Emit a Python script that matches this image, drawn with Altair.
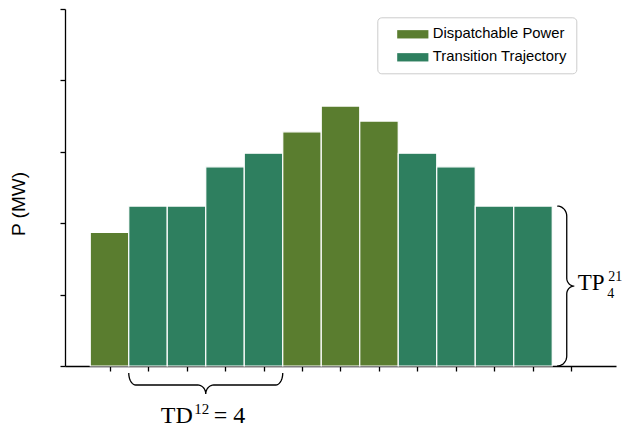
import altair as alt
import pandas as pd
import numpy as np

# ---------------- data ----------------
steps = list(range(1, 13))
power = [1.87, 2.24, 2.24, 2.79, 2.98, 3.28, 3.64, 3.43, 2.98, 2.79, 2.24, 2.24]
kinds = ["Dispatchable Power"] + ["Transition Trajectory"] * 4 + \
        ["Dispatchable Power"] * 3 + ["Transition Trajectory"] * 4
legend_names = ["Dispatchable Power", "Transition Trajectory"]
legend_colors = ["#5A7D2F", "#2E7F5F"]
x_ticks = list(range(1, 14))
y_ticks = [0, 1, 2, 3, 4, 5]
td_span = [2, 5]          # bars covered by bottom brace
tp_bar = 12               # bar whose height the right brace spans
td_text = ["TD", "12", "= 4"]
tp_text = ["TP", "4", "21"]

# ---------------- layout constants ----------------
W, H = 551, 357
X_DOM = [-0.156, 14.156]
Y_DOM = [0, 5]
PX_X = W / (X_DOM[1] - X_DOM[0])
PX_Y = H / (Y_DOM[1] - Y_DOM[0])

bars = pd.DataFrame({"step": steps, "yv": power, "kind": kinds})
bars["xv"] = bars["step"] - 0.5
bars["xv2"] = bars["step"] + 0.5


def brace(length, end_a, end_d, tip_a, tip_d, n=10):
    """generic curly brace in (along, depth) pixel offsets"""
    t = np.linspace(0, np.pi / 2, n)
    pts = []
    for ti in t:
        pts.append((end_a - end_a * np.cos(ti), end_d * np.sin(ti)))
    cx, cy = length / 2 - tip_a, end_d + tip_d
    for ti in t:
        pts.append((cx + tip_a * np.sin(ti), cy - tip_d * np.cos(ti)))
    half = list(pts)
    for a, d in reversed(half[:-1]):
        pts.append((length - a, d))
    return pts


rows = []
# bottom brace (horizontal, under bars td_span)
bx0 = td_span[0] - 0.5
bx1 = td_span[1] + 0.5
blen = (bx1 - bx0) * PX_X
for i, (a, d) in enumerate(brace(blen, 7, 12, 8, 9)):
    rows.append({"id": "td", "o": i, "xv": bx0 + a / PX_X, "yv": -(7 + d) / PX_Y})
# right brace (vertical, beside last bar)
top = power[tp_bar - 1]
vlen = top * PX_Y
rx0 = tp_bar + 0.5 + 5 / PX_X
for i, (a, d) in enumerate(brace(vlen, 10, 9.5, 8, 7.5)):
    rows.append({"id": "tp", "o": i, "xv": rx0 + d / PX_X, "yv": top - a / PX_Y})
braces = pd.DataFrame(rows)

xs = alt.Scale(domain=X_DOM, nice=False, zero=False)
ys = alt.Scale(domain=Y_DOM, nice=False)

bar_layer = alt.Chart(bars).mark_rect(stroke="white", strokeWidth=1.2).encode(
    x=alt.X("xv:Q", scale=xs, title=" ",
            axis=alt.Axis(values=x_ticks, labels=False, grid=False, tickSize=5,
                          domainColor="black", tickColor="black",
                          domainWidth=1.3, tickWidth=1.3, titleOpacity=0)),
    x2="xv2:Q",
    y=alt.Y("yv:Q", scale=ys, title="P (MW)",
            axis=alt.Axis(values=y_ticks, labels=False, grid=False, tickSize=5,
                          domainColor="black", tickColor="black",
                          domainWidth=1.3, tickWidth=1.3,
                          titleFont="Liberation Sans", titleFontSize=19,
                          titleFontWeight="normal", titleColor="black",
                          titleAngle=270, titleAlign="center",
                          titleBaseline="middle", titleX=-46.5, titleY=194.5)),
    y2=alt.datum(0),
    color=alt.Color("kind:N",
                    scale=alt.Scale(domain=legend_names, range=legend_colors),
                    legend=alt.Legend(orient="none", legendX=312.3, legendY=8.3,
                                      title=None, fillColor="white",
                                      strokeColor="#cccccc", cornerRadius=4,
                                      padding=9,
                                      symbolType="M-1.95,-0.52H1.95V0.52H-1.95Z",
                                      symbolSize=256, symbolStrokeWidth=0,
                                      symbolOffset=18.5, labelOffset=12,
                                      labelFont="Liberation Sans",
                                      labelFontSize=14.8, labelColor="black",
                                      rowPadding=8, labelLimit=300)),
)

brace_layer = alt.Chart(braces).mark_line(color="black", strokeWidth=1.3).encode(
    x=alt.X("xv:Q", scale=xs, title=" "),
    y=alt.Y("yv:Q", scale=ys, title="P (MW)"),
    order="o:Q",
    detail="id:N",
)

td_x = (td_span[0] + td_span[1]) / 2
tp_y = top / 2
serif = "Liberation Serif"


def txt(x, y, s, size, align, dx, dy):
    d = pd.DataFrame({"xv": [x], "yv": [y], "t": [s]})
    return alt.Chart(d).mark_text(font=serif, fontSize=size, align=align,
                                  baseline="alphabetic", dx=dx, dy=dy,
                                  color="black").encode(
        x=alt.X("xv:Q", scale=xs, title=" "),
        y=alt.Y("yv:Q", scale=ys, title="P (MW)"),
        text="t:N")


texts = [
    txt(td_x, 0, td_text[0], 24, "right", -13, 56.5),
    txt(td_x, 0, td_text[1], 15, "left", -11.5, 48),
    txt(td_x, 0, td_text[2], 24, "left", 8, 56.5),
    txt(tp_bar + 0.5, tp_y, tp_text[0], 23, "left", 25.5, 4),
    txt(tp_bar + 0.5, tp_y, tp_text[1], 14, "left", 55, 11.5),
    txt(tp_bar + 0.5, tp_y, tp_text[2], 14, "left", 56, -5),
]

chart = alt.layer(bar_layer, brace_layer, *texts).properties(
    width=W, height=H,
    autosize=alt.AutoSizeParams(type="none"),
    padding={"left": 57, "top": 1, "right": 14, "bottom": 61},
).configure_view(stroke=None).configure_axisY(titleFontSize=19)

chart.save("out.html", embed_options={"renderer": "svg", "actions": False})
